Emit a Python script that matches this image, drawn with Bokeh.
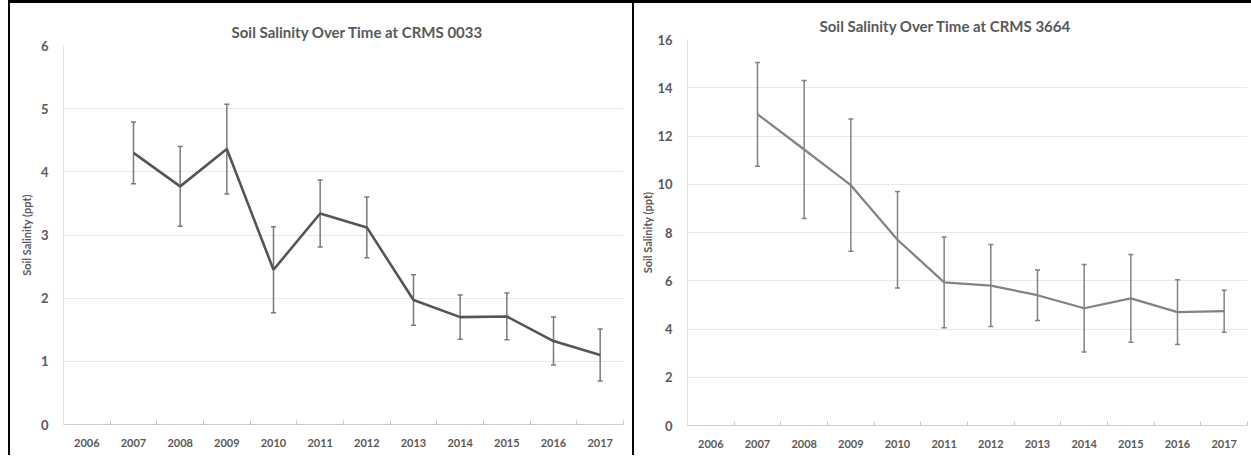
from bokeh.plotting import figure
from bokeh.models import (ColumnDataSource, Range1d, FixedTicker, Whisker, TeeHead, Spacer, Title)
from bokeh.layouts import row, column
from bokeh.embed import file_html
from bokeh.resources import INLINE

# ---------------- data ----------------
years = [2006, 2007, 2008, 2009, 2010, 2011, 2012, 2013, 2014, 2015, 2016, 2017]
data_years = [2007, 2008, 2009, 2010, 2011, 2012, 2013, 2014, 2015, 2016, 2017]

crms0033_mean = [4.30, 3.77, 4.36, 2.45, 3.34, 3.12, 1.97, 1.70, 1.71, 1.32, 1.10]
crms0033_sd = [0.49, 0.63, 0.71, 0.68, 0.53, 0.48, 0.40, 0.35, 0.37, 0.38, 0.41]

crms3664_mean = [12.90, 11.44, 9.96, 7.70, 5.93, 5.80, 5.40, 4.86, 5.27, 4.70, 4.74]
crms3664_sd = [2.15, 2.86, 2.74, 2.00, 1.88, 1.70, 1.05, 1.81, 1.82, 1.34, 0.87]

left_title = "Soil Salinity Over Time at CRMS 0033"
right_title = "Soil Salinity Over Time at CRMS 3664"
y_label = "Soil Salinity (ppt)"
left_yticks = [0, 1, 2, 3, 4, 5, 6]
right_yticks = [0, 2, 4, 6, 8, 10, 12, 14, 16]

FONT = "Lato"
TXT = "#595959"


def make_panel(width, height, bl, br, bt, bb, ymax, yticks, mean, sd,
               line_color, line_width, err_color, title, title_offset, ylab_standoff):
    p = figure(width=width, height=height, output_backend="svg", toolbar_location=None,
               x_range=Range1d(years[0] - 0.5, years[-1] + 0.5),
               y_range=Range1d(0, ymax),
               min_border_left=bl, min_border_right=br, min_border_top=bt, min_border_bottom=bb)
    p.title = Title(text=title, align="left", offset=title_offset,
                    text_font=FONT, text_font_size="15px", text_font_style="bold",
                    text_color=TXT)
    p.outline_line_color = None
    p.background_fill_color = "white"
    p.border_fill_color = "white"
    p.xgrid.grid_line_color = None
    p.ygrid.grid_line_color = "#e9e9e9"
    p.ygrid.grid_line_width = 1

    xa = p.xaxis[0]
    xa.ticker = FixedTicker(ticks=years, minor_ticks=[y - 0.5 for y in years] + [years[-1] + 0.5])
    xa.major_tick_line_color = None
    xa.minor_tick_line_color = "#c8c8c8"
    xa.minor_tick_in = 4
    xa.minor_tick_out = 0
    xa.axis_line_color = "#cfcfcf"
    xa.major_label_text_font = FONT
    xa.major_label_text_font_size = "11px"
    xa.major_label_text_font_style = "bold"
    xa.major_label_text_color = TXT
    xa.major_label_standoff = 8

    ya = p.yaxis[0]
    ya.ticker = FixedTicker(ticks=yticks)
    ya.major_tick_line_color = None
    ya.minor_tick_line_color = None
    ya.axis_line_color = "#e2e2e2"
    ya.major_label_text_font = FONT
    ya.major_label_text_font_size = "13px"
    ya.major_label_text_font_style = "bold"
    ya.major_label_text_color = TXT
    ya.major_label_standoff = 9
    ya.axis_label = y_label
    ya.axis_label_text_font = FONT
    ya.axis_label_text_font_size = "11px"
    ya.axis_label_text_font_style = "bold"
    ya.axis_label_text_color = TXT
    ya.axis_label_standoff = ylab_standoff

    src = ColumnDataSource(dict(
        x=data_years, y=mean,
        upper=[m + s for m, s in zip(mean, sd)],
        lower=[m - s for m, s in zip(mean, sd)],
    ))
    w = Whisker(source=src, base="x", upper="upper", lower="lower",
                line_color=err_color, line_width=1.5,
                upper_head=TeeHead(size=5, line_color=err_color, line_width=1.5),
                lower_head=TeeHead(size=5, line_color=err_color, line_width=1.5))
    p.add_layout(w)
    p.line("x", "y", source=src, line_color=line_color, line_width=line_width)
    return p


H = 452
p1 = make_panel(622, H, 53, 9, 42, 31, 6, left_yticks, crms0033_mean, crms0033_sd,
                "#555555", 2.6, "#7a7a7a", left_title, 168, 5)
p2 = make_panel(617, H, 53, 4, 36, 30, 16, right_yticks, crms3664_mean, crms3664_sd,
                "#838383", 2.25, "#838383", right_title, 132, 0)

border = "-2px -3px 0 0 #000, -2px 0 0 0 #000, 0 -3px 0 0 #000"
p1.styles = {"box-shadow": border}
p2.styles = {"box-shadow": border}

left_block = column(Spacer(height=3, width=632), row(Spacer(width=10, height=H), p1))
right_block = column(Spacer(height=3, width=619), row(Spacer(width=2, height=H), p2))
layout = row(left_block, right_block)
open("out.html", "w").write(file_html(layout, INLINE))
